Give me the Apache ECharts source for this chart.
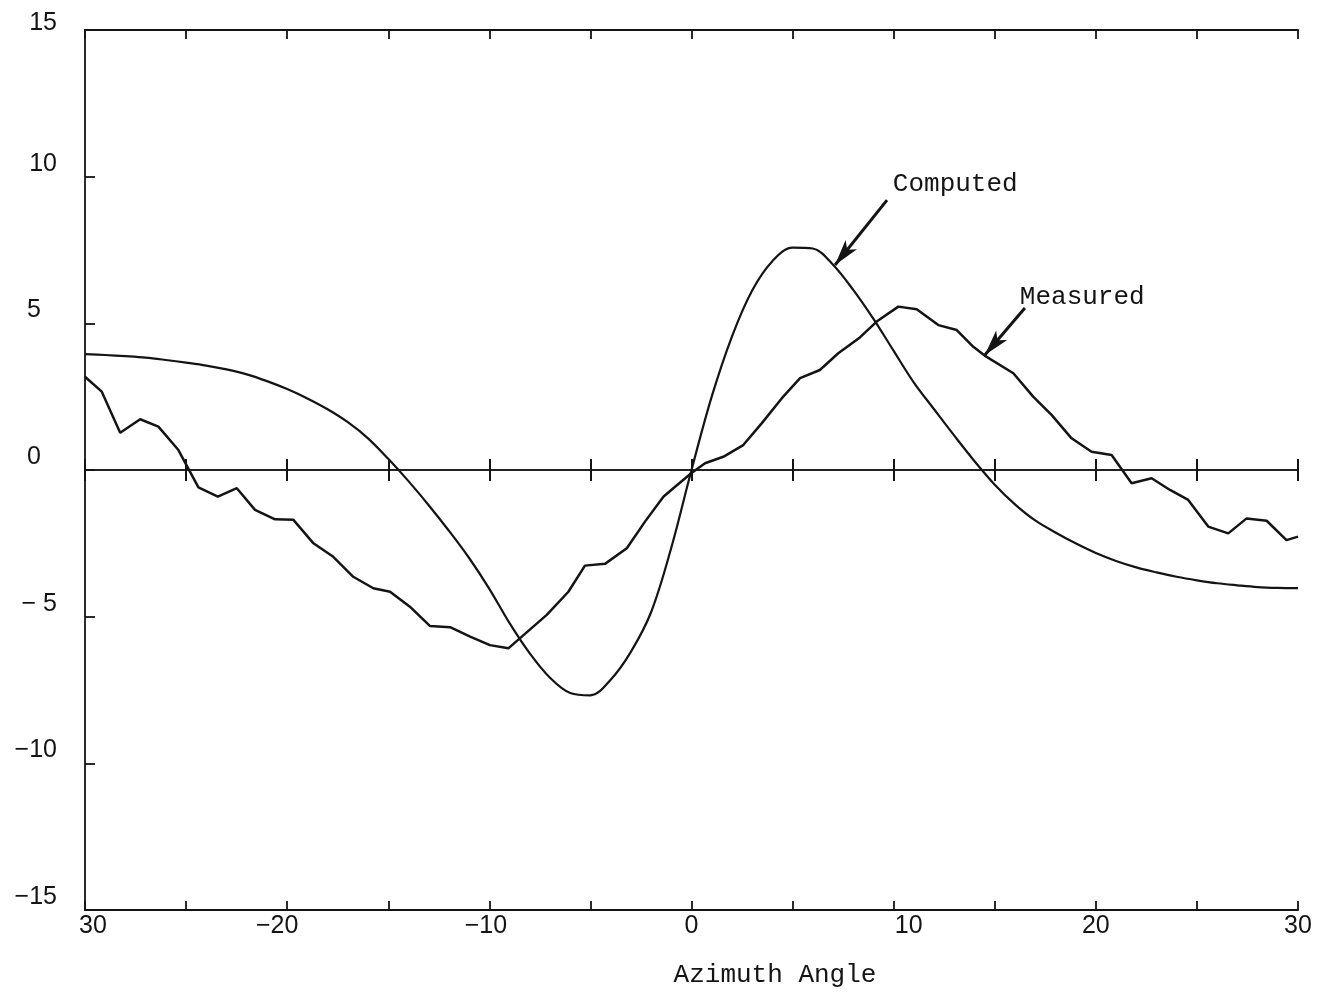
<!DOCTYPE html>
<html><head><meta charset="utf-8">
<script src="https://cdn.jsdelivr.net/npm/echarts@6/dist/echarts.min.js"></script>
<style>html,body{margin:0;padding:0;background:#fff}#c{width:1318px;height:993px}</style>
</head><body><div id="c"></div>
<script>
// ---- data ----
const computedX = [-30,-29,-28,-27,-26,-25,-24,-23,-22,-21,-20,-19,-18,-17,-16,-15,-14,-13,-12,-11,-10,-9,-8,-7,-6,-5,-4,-3,-2,-1,0,1,2,3,4,5,6,7,8,9,10,11,12,13,14,15,16,17,18,19,20,21,22,23,24,25,26,27,28,29,30];
const computedY = [3.95,3.92,3.88,3.83,3.75,3.66,3.56,3.43,3.26,3.03,2.76,2.44,2.07,1.63,1.08,0.38,-0.38,-1.2,-2.07,-3.0,-4.05,-5.22,-6.25,-7.08,-7.6,-7.68,-7.15,-6.2,-4.85,-2.65,0,2.5,4.55,6.12,7.12,7.58,7.55,7.0,6.14,5.15,4.06,2.98,2.07,1.17,0.3,-0.5,-1.17,-1.72,-2.13,-2.5,-2.83,-3.1,-3.32,-3.49,-3.64,-3.76,-3.86,-3.93,-3.99,-4.02,-4.03];
const measuredX = [-30.0,-29.17,-28.26,-27.27,-26.37,-25.38,-24.39,-23.43,-22.49,-21.59,-20.6,-19.69,-18.7,-17.72,-16.73,-15.74,-14.91,-13.93,-12.93,-11.94,-10.95,-9.97,-9.06,-7.16,-6.09,-5.27,-4.28,-3.2,-2.3,-1.39,-0.9,0.0,0.67,1.57,2.56,3.47,4.46,5.37,6.35,7.26,8.33,9.16,10.23,11.14,12.21,13.12,13.94,14.5,15.92,16.9,17.81,18.8,19.79,20.78,21.77,22.76,23.67,24.57,25.56,26.55,27.46,28.45,29.43,30.0];
const measuredY = [3.18,2.67,1.27,1.73,1.48,0.68,-0.59,-0.91,-0.62,-1.36,-1.68,-1.7,-2.5,-2.96,-3.64,-4.03,-4.15,-4.66,-5.32,-5.36,-5.68,-5.97,-6.08,-4.94,-4.15,-3.26,-3.2,-2.67,-1.76,-0.91,-0.62,-0.1,0.23,0.45,0.85,1.59,2.44,3.13,3.41,3.98,4.52,5.06,5.57,5.48,4.94,4.77,4.2,3.9,3.3,2.5,1.88,1.08,0.62,0.51,-0.45,-0.28,-0.68,-1.02,-1.93,-2.16,-1.65,-1.73,-2.39,-2.27];
const xTickValues = [-30,-20,-10,0,10,20,30];
const xTickLabels = ['30','\u221220','\u221210','0','10','20','30'];
const yTickValues = [-15,-10,-5,0,5,10,15];
const yTickLabels = ['\u221215','\u221210','\u2212 5','0','5','10','15'];
const xAxisTitle = 'Azimuth Angle';
const annotationTexts = ['Computed','Measured'];
const annotationTextAt = [[9.96,9.75],[16.24,5.88]];
const arrowFrom = [[9.67,9.2],[16.49,5.52]];
const arrowTo = [[7.1,6.99],[14.51,3.92]];

// ---- styling ----
const INK = '#141414';
const tickFont = 'Liberation Sans';
const monoFont = 'Liberation Mono';
const pair = (xs, ys) => xs.map((x, i) => [x, ys[i]]);

const chart = echarts.init(document.getElementById('c'), null, {renderer: 'canvas'});

const baseX = {type: 'value', min: -30, max: 30, interval: 5, splitLine: {show: false}};
const lbl = {fontFamily: tickFont, fontSize: 25, color: INK, lineHeight: 26};

chart.setOption({
  animation: false,
  backgroundColor: '#fff',
  grid: {left: 85, right: 20, top: 30, bottom: 83, containLabel: false, outerBoundsMode: 'none'},
  xAxis: [
    Object.assign({}, baseX, {
      position: 'bottom',
      axisLine: {show: true, onZero: false, lineStyle: {color: INK, width: 1.8}},
      axisTick: {show: true, inside: true, length: 9, lineStyle: {color: INK, width: 1.8}},
      axisLabel: Object.assign({}, lbl, {
        margin: 3,
        showMinLabel: true, showMaxLabel: true,
        formatter: function (v) {
          const i = xTickValues.indexOf(v);
          if (i < 0) return '';
          const s = xTickLabels[i];
          if (v === -30) return '{l|' + s + '}';
          if (v === 10) return '{r|' + s + '}';
          if (v === -20) return '{n|' + s + '}';
          if (v === -10) return '{m|' + s + '}';
          return s;
        },
        rich: {
          l: Object.assign({}, lbl, {padding: [0, 0, 0, 16]}),
          r: Object.assign({}, lbl, {padding: [0, 0, 0, 30]}),
          n: Object.assign({}, lbl, {padding: [0, 20, 0, 0]}),
          m: Object.assign({}, lbl, {padding: [0, 7, 0, 0]})
        }
      })
    }),
    Object.assign({}, baseX, {
      position: 'top',
      axisLine: {show: true, onZero: false, lineStyle: {color: INK, width: 1.8}},
      axisTick: {show: true, inside: true, length: 9, lineStyle: {color: INK, width: 1.8}},
      axisLabel: {show: false}
    }),
    Object.assign({}, baseX, {
      position: 'bottom',
      axisLine: {show: true, onZero: true, onZeroAxisIndex: 0, lineStyle: {color: INK, width: 1.6}},
      axisTick: {show: true, inside: true, length: 11, lineStyle: {color: INK, width: 2}},
      axisLabel: {show: false}
    }),
    Object.assign({}, baseX, {
      position: 'bottom',
      axisLine: {show: true, onZero: true, onZeroAxisIndex: 0, lineStyle: {color: INK, width: 1.6}},
      axisTick: {show: true, inside: false, length: 11, lineStyle: {color: INK, width: 2}},
      axisLabel: {show: false}
    })
  ],
  yAxis: [{
    type: 'value', min: -15, max: 15, interval: 5, position: 'left',
    splitLine: {show: false},
    axisLine: {show: true, onZero: false, lineStyle: {color: INK, width: 1.8}},
    axisTick: {show: true, inside: true, length: 10, lineStyle: {color: INK, width: 1.8}},
    axisLabel: Object.assign({}, lbl, {
      margin: 28,
      showMinLabel: true, showMaxLabel: true,
      formatter: function (v) {
        const i = yTickValues.indexOf(v);
        if (i < 0) return '';
        const s = yTickLabels[i];
        if (v === 15) return '{t|' + s + '}';
        if (v >= 0 && v < 10) return '{p|' + s + '}';
        return '{q|' + s + '}';
      },
      rich: {
        p: Object.assign({}, lbl, {padding: [0, 16, 26, 0]}),
        q: Object.assign({}, lbl, {padding: [0, 0, 26, 0]}),
        t: Object.assign({}, lbl, {padding: [0, 0, 14, 0]})
      }
    })
  }],
  series: [
    {
      name: 'Computed', type: 'line', xAxisIndex: 0, yAxisIndex: 0,
      data: pair(computedX, computedY),
      smooth: 0.35, showSymbol: false, symbol: 'none',
      lineStyle: {color: INK, width: 2.2},
      emphasis: {disabled: true}
    },
    {
      name: 'Measured', type: 'line', xAxisIndex: 0, yAxisIndex: 0,
      data: pair(measuredX, measuredY),
      smooth: false, showSymbol: false, symbol: 'none',
      lineStyle: {color: INK, width: 2.5},
      emphasis: {disabled: true},
      markLine: {
        silent: true,
        symbol: ['none', 'arrow'],
        symbolSize: [11, 26],
        label: {show: false},
        lineStyle: {color: INK, width: 3, type: 'solid'},
        emphasis: {disabled: true},
        data: arrowFrom.map((f, i) => [{coord: f}, {coord: arrowTo[i]}])
      }
    }
  ]
});

const g = annotationTexts.map((t, i) => {
  const p = chart.convertToPixel({gridIndex: 0}, annotationTextAt[i]);
  return {
    type: 'text', x: p[0], y: p[1], silent: true,
    style: {text: t, fontFamily: monoFont, fontSize: 26, fill: INK, align: 'left', verticalAlign: 'middle', textAlign: 'left', textVerticalAlign: 'middle'}
  };
});
g.push({
  type: 'text', x: 775, y: 975, silent: true,
  style: {text: xAxisTitle, fontFamily: monoFont, fontSize: 26, fill: INK, align: 'center', verticalAlign: 'middle', textAlign: 'center', textVerticalAlign: 'middle'}
});
chart.setOption({graphic: g});
</script>
</body></html>
